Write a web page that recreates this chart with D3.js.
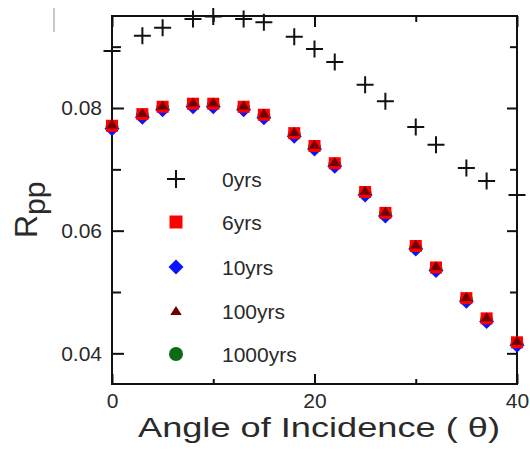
<!DOCTYPE html>
<html>
<head>
<meta charset="utf-8">
<script src="https://cdn.jsdelivr.net/npm/d3@7"></script>
<style>
  body { margin: 0; background: #fff; }
  svg { display: block; }
  text { font-family: "Liberation Sans", Arial, sans-serif; fill: #2a2a2a; }
</style>
</head>
<body>
<div id="chart"></div>
<script>
// angle of incidence (degrees)
const angles = [0, 3, 5, 8, 10, 13, 15, 18, 20, 22, 25, 27, 30, 32, 35, 37, 40];

// Rpp per age
const r0yrs = [0.0893, 0.0918, 0.0931, 0.0945, 0.0949, 0.0945, 0.0940, 0.0916, 0.0896, 0.0875, 0.0838, 0.0811, 0.0769, 0.0740, 0.0702, 0.0681, 0.0658];
const r6yrs = [0.0771, 0.0790, 0.0802, 0.0807, 0.0807, 0.0802, 0.0789, 0.0759, 0.0738, 0.0710, 0.0663, 0.0629, 0.0575, 0.0540, 0.0490, 0.0457, 0.0418];
const r10yrs = [0.0766, 0.0785, 0.0797, 0.0802, 0.0802, 0.0797, 0.0784, 0.0754, 0.0733, 0.0705, 0.0658, 0.0624, 0.0570, 0.0535, 0.0485, 0.0452, 0.0413];
const r100yrs = [0.0773, 0.0792, 0.0804, 0.0809, 0.0809, 0.0804, 0.0791, 0.0761, 0.0740, 0.0712, 0.0665, 0.0631, 0.0577, 0.0542, 0.0492, 0.0459, 0.0420];
const r1000yrs = [0.0769, 0.0788, 0.0800, 0.0805, 0.0805, 0.0800, 0.0787, 0.0757, 0.0736, 0.0708, 0.0661, 0.0627, 0.0573, 0.0538, 0.0488, 0.0455, 0.0416];

const seriesNames = ['0yrs', '6yrs', '10yrs', '100yrs', '1000yrs'];
const xMajor = [0, 20, 40];
const xMinor = [10, 30];
const yMajor = [0.04, 0.06, 0.08];
const yMinor = [0.05, 0.07, 0.09];

const width = 530;
const height = 454;
const plotLeft = 112, plotRight = 517, plotTop = 16, plotBottom = 384;

const svg = d3.select('#chart').append('svg')
  .attr('width', width)
  .attr('height', height);

const x = d3.scaleLinear().domain([0, 40]).range([plotLeft, plotRight]);
const y = d3.scaleLinear().domain([0.035, 0.095]).range([plotBottom, plotTop]);

// marker shapes
const shapes = {
  cross: (s) => `M${-s},0H${s}M0,${-s}V${s}`,
  square: (s) => `M${-s},${-s}H${s}V${s}H${-s}Z`,
  diamond: (s) => `M0,${-s}L${s},0L0,${s}L${-s},0Z`,
  triangle: (s) => `M0,${-s}L${s * 1.15},${s * 0.8}L${-s * 1.15},${s * 0.8}Z`,
  circle: (s) => d3.symbol(d3.symbolCircle, Math.PI * s * s)(),
};

const series = [
  { name: '0yrs', values: r0yrs, shape: 'cross', size: 8.5, color: '#111', line: true },
  { name: '6yrs', values: r6yrs, shape: 'square', size: 6, color: '#ff0000' },
  { name: '10yrs', values: r10yrs, shape: 'diamond', size: 7.5, color: '#0a14ff' },
  { name: '100yrs', values: r100yrs, shape: 'triangle', size: 5, color: '#700000' },
  { name: '1000yrs', values: r1000yrs, shape: 'circle', size: 6.5, color: '#0b6a12' },
];

// draw order: green underneath, then blue, red, dark-red triangle, crosses
const drawOrder = [4, 2, 1, 3, 0];

function styleMark(sel, s) {
  if (s.line) {
    sel.attr('fill', 'none').attr('stroke', s.color).attr('stroke-width', 2);
  } else {
    sel.attr('fill', s.color).attr('stroke', 'none');
  }
}

// axes
function tidy(g) {
  g.select('.domain').remove();
  g.selectAll('.tick line').attr('stroke', '#111').attr('stroke-width', 2);
  g.selectAll('.tick text').attr('font-size', 21).attr('fill', '#2a2a2a')
    .style('font-family', '"Liberation Sans", Arial, sans-serif');
}

svg.append('g').attr('transform', `translate(${plotLeft},0)`)
  .call(d3.axisLeft(y).tickValues(yMajor).tickSize(-12).tickPadding(10).tickFormat(d3.format('.2f')))
  .call(tidy);
svg.append('g').attr('transform', `translate(${plotLeft},0)`)
  .call(d3.axisLeft(y).tickValues(yMinor).tickSize(-9).tickFormat(''))
  .call(tidy);
svg.append('g').attr('transform', `translate(${plotRight},0)`)
  .call(d3.axisRight(y).tickValues(yMajor).tickSize(-10).tickFormat(''))
  .call(tidy);
svg.append('g').attr('transform', `translate(${plotRight},0)`)
  .call(d3.axisRight(y).tickValues(yMinor).tickSize(-7).tickFormat(''))
  .call(tidy);

svg.append('g').attr('transform', `translate(0,${plotBottom})`)
  .call(d3.axisBottom(x).tickValues(xMajor).tickSize(-10).tickPadding(9).tickFormat(d3.format('d')))
  .call(tidy);
svg.append('g').attr('transform', `translate(0,${plotBottom})`)
  .call(d3.axisBottom(x).tickValues(xMinor).tickSize(-5).tickFormat(''))
  .call(tidy);
svg.append('g').attr('transform', `translate(0,${plotTop})`)
  .call(d3.axisTop(x).tickValues(xMajor).tickSize(-11).tickFormat(''))
  .call(tidy);
svg.append('g').attr('transform', `translate(0,${plotTop})`)
  .call(d3.axisTop(x).tickValues(xMinor).tickSize(-6).tickFormat(''))
  .call(tidy);

// frame
svg.append('rect')
  .attr('x', plotLeft).attr('y', plotTop)
  .attr('width', plotRight - plotLeft).attr('height', plotBottom - plotTop)
  .attr('fill', 'none').attr('stroke', '#111').attr('stroke-width', 2);

// points
drawOrder.forEach((i) => {
  const s = series[i];
  svg.append('g')
    .selectAll('path')
    .data(angles.map((a, j) => ({ a, v: s.values[j] })))
    .join('path')
    .attr('d', shapes[s.shape](s.size))
    .attr('transform', (d) => `translate(${x(d.a)},${y(d.v)})`)
    .call(styleMark, s);
});

// legend
const legendY = [179, 222, 267, 311, 354];
const legend = svg.append('g');
series.forEach((s, i) => {
  const lsize = { cross: 9, square: 6.5, diamond: 7.5, triangle: 5, circle: 7 }[s.shape];
  legend.append('path')
    .attr('d', shapes[s.shape](lsize))
    .attr('transform', `translate(176,${legendY[i]})`)
    .call(styleMark, s);
  legend.append('text')
    .attr('x', 222)
    .attr('y', legendY[i] + 8)
    .attr('font-size', 21)
    .text(seriesNames[i]);
});

// axis titles
svg.append('text')
  .attr('x', 138)
  .attr('y', 437)
  .attr('font-size', 28)
  .attr('textLength', 362)
  .attr('lengthAdjust', 'spacingAndGlyphs')
  .text('Angle of Incidence ( θ)');

const yTitle = svg.append('text')
  .attr('transform', 'translate(37,238) rotate(-90)')
  .attr('font-size', 32);
yTitle.append('tspan').text('R');
yTitle.append('tspan').attr('dy', 8).attr('font-size', 30).text('pp');

// faint stray mark at top-left of the original image
svg.append('line')
  .attr('x1', 54).attr('x2', 54).attr('y1', 8).attr('y2', 32)
  .attr('stroke', '#c8c8c8').attr('stroke-width', 2);
</script>
</body>
</html>
